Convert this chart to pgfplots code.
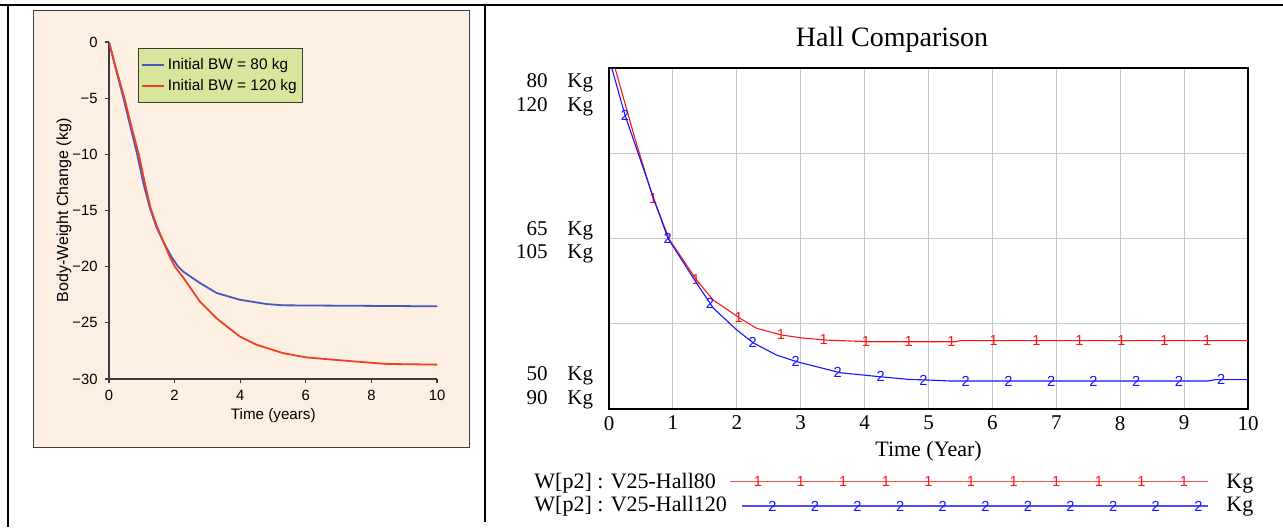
\documentclass[border=0pt]{standalone}
\usepackage{pgfplots}
\pgfplotsset{compat=1.18}
\usepackage{fontspec}
\setmainfont{Liberation Serif}
\newfontfamily\lsans{Liberation Sans}
\definecolor{peach}{RGB}{253,239,225}
\definecolor{lgreen}{RGB}{216,229,156}
\definecolor{lblue}{RGB}{70,90,190}
\definecolor{lred}{RGB}{235,65,40}
\definecolor{axgray}{RGB}{60,60,60}
\definecolor{vred}{RGB}{255,20,20}
\definecolor{vblue}{RGB}{20,20,255}
\begin{document}
\begin{tikzpicture}
\path[use as bounding box] (0,0) rectangle (641.5pt,263.5pt);
% ---------- frame and panel backgrounds (pixel grid) ----------
\begin{scope}[x=0.5pt,y=-0.5pt,yshift=263.5pt]
\draw[line width=1pt] (0,4.5) -- (1283,4.5);
\draw[line width=0.85pt] (8,4.5) -- (8,527);
\draw[line width=1pt] (485,4.5) -- (485,522);
\filldraw[fill=peach,draw=axgray,line width=0.5pt] (33,10) rectangle (469,447);
\end{scope}
% ---------- left chart ----------
\begin{axis}[
  at={(54.5pt,74pt)}, anchor=south west, scale only axis,
  width=164pt, height=168.5pt,
  xmin=0, xmax=10, ymin=-30, ymax=0,
  axis lines=left, axis line style={-, draw=axgray, line width=0.7pt},
  xtick={0,2,...,10}, ytick={-30,-25,...,0},
  yticklabels={−30,−25,−20,−15,−10,−5,0},
  tick align=outside, major tick length=2.2pt,
  tick style={axgray, line width=0.6pt},
  ticklabel style={font=\lsans\fontsize{7.4}{8}\selectfont},
  /pgf/number format/assume math mode=true,
  legend cell align=left,
  legend image code/.code={\draw[#1] (0pt,0pt) -- (11pt,0pt);},
  legend style={at={(0.0884,0.982)}, anchor=north west, fill=lgreen,
    draw=axgray, line width=0.5pt, font=\lsans\fontsize{7.7}{8}\selectfont,
    inner xsep=1.5pt, inner ysep=3.2pt, row sep=0pt,
    nodes={inner sep=1.3pt, text height=6pt, text depth=1.8pt}},
]
\addplot[lblue, line width=0.9pt] coordinates {
(0,0) (0.2,-2.3) (0.44,-5) (0.65,-7.5) (0.86,-10) (1.05,-12.6) (1.25,-14.8)
(1.45,-16.5) (1.66,-17.8) (1.9,-19.1) (2.11,-20) (2.27,-20.45) (2.77,-21.45)
(3.28,-22.34) (3.98,-22.94) (4.79,-23.32) (5.3,-23.44) (6.83,-23.47) (8.5,-23.5) (10,-23.53)};
\addlegendentry{Initial BW = 80 kg}
\addplot[lred, line width=0.9pt] coordinates {
(0,0) (0.2,-2.2) (0.47,-5) (0.69,-7.6) (0.91,-10) (1.08,-12.4) (1.27,-14.8)
(1.46,-16.4) (1.66,-17.8) (1.85,-19.1) (2.01,-20) (2.27,-21.0) (2.77,-23.1)
(3.28,-24.6) (3.98,-26.2) (4.49,-26.94) (5.3,-27.69) (6.0,-28.07) (6.83,-28.28)
(7.85,-28.52) (8.46,-28.66) (10,-28.72)};
\addlegendentry{Initial BW = 120 kg}
\end{axis}
% ---------- right chart: series 1 (80 kg scale) ----------
\begin{axis}[
  at={(304.5pt,59pt)}, anchor=south west, scale only axis,
  width=319.5pt, height=170.5pt,
  xmin=0, xmax=10, ymin=50, ymax=80,
  xtick={0,1,...,10}, ytick={50,57.5,65,72.5,80}, yticklabels={,,,,},
  grid=major, grid style={black!22, line width=0.5pt},
  major tick length=0pt,
  axis line style={black, line width=0.9pt},
  xticklabel style={font=\fontsize{10.5}{12}\selectfont},
  /pgf/number format/assume math mode=true,
]
\addplot[vred, line width=0.55pt] coordinates {
(0.094,80) (0.4,73.9) (0.69,68.54) (0.95,64.87) (1.37,61.35) (1.63,59.59)
(2.05,57.98) (2.31,57.10) (2.70,56.51) (3.0,56.27) (3.38,56.07) (4.05,55.92)
(5.42,55.92) (5.5,56.01) (10,56.01)};
\addplot[vred, only marks, mark=text, text mark={1}, text mark as node=true,
  text mark style={font=\lsans\fontsize{7.3}{7}\selectfont, inner sep=0pt}] coordinates {
(0.69,68.54) (1.36,61.42) (2.03,58.05) (2.69,56.52) (3.36,56.08) (4.02,55.93)
(4.69,55.92) (5.36,55.92) (6.02,56.01) (6.69,56.01) (7.36,56.01) (8.02,56.01)
(8.69,56.01) (9.36,56.01)};
\end{axis}
% ---------- right chart: series 2 (120 kg scale) ----------
\begin{axis}[
  at={(304.5pt,59pt)}, anchor=south west, scale only axis,
  width=319.5pt, height=170.5pt,
  xmin=0, xmax=10, ymin=90, ymax=120, hide axis,
]
\addplot[vblue, line width=0.55pt] coordinates {
(0.043,120) (0.25,115.86) (0.69,108.68) (0.92,105.04) (1.37,101.08) (1.63,98.89)
(2.0,96.95) (2.26,95.81) (2.62,94.75) (2.94,94.16) (3.62,93.19) (4.24,92.84)
(4.7,92.6) (5.0,92.55) (5.35,92.46) (9.37,92.46) (9.48,92.58) (10,92.58)};
\addplot[vblue, only marks, mark=text, text mark={2}, text mark as node=true,
  text mark style={font=\lsans\fontsize{7.3}{7}\selectfont, inner sep=0pt}] coordinates {
(0.25,115.86) (0.92,105.04) (1.58,99.31) (2.25,95.85) (2.92,94.2) (3.58,93.25)
(4.25,92.83) (4.92,92.56) (5.58,92.46) (6.25,92.46) (6.92,92.46) (7.58,92.46)
(8.25,92.46) (8.92,92.46) (9.58,92.58)};
\end{axis}
% ---------- right legend lines (pixel-space axis) ----------
\begin{axis}[
  at={(0pt,0pt)}, anchor=south west, scale only axis,
  width=641.5pt, height=263.5pt,
  xmin=0, xmax=1283, ymin=0, ymax=527, y dir=reverse,
  hide axis, clip=false,
]
\addplot[vred!75, line width=0.7pt] coordinates {(730,481.7) (1208,481.7)};
\addplot[vred, only marks, mark=text, text mark={1}, text mark as node=true,
  text mark style={font=\lsans\fontsize{7.3}{7}\selectfont, inner sep=0pt}] coordinates {
(758,481.7) (800.6,481.7) (843.2,481.7) (885.8,481.7) (928.4,481.7) (971,481.7)
(1013.6,481.7) (1056.2,481.7) (1098.8,481.7) (1141.4,481.7) (1184,481.7)};
\addplot[vblue!75, line width=0.7pt] coordinates {(741.7,506) (1208,506)};
\addplot[vblue, only marks, mark=text, text mark={2}, text mark as node=true,
  text mark style={font=\lsans\fontsize{7.3}{7}\selectfont, inner sep=0pt}] coordinates {
(772.3,506) (814.9,506) (857.5,506) (900.1,506) (942.7,506) (985.3,506)
(1027.9,506) (1070.5,506) (1113.1,506) (1155.7,506) (1198.3,506)};
\end{axis}
% ---------- texts (pixel grid) ----------
\begin{scope}[x=0.5pt,y=-0.5pt,yshift=263.5pt]
\node[rotate=90, anchor=base, inner sep=0pt, font=\lsans\fontsize{8}{9}\selectfont] at (68,210.5) {Body-Weight Change (kg)};
\node[anchor=base, inner sep=0pt, font=\lsans\fontsize{7.6}{9}\selectfont] at (273.3,419.3) {Time (years)};
\node[anchor=base, inner sep=0pt, font=\fontsize{14}{16}\selectfont] at (892,46.7) {Hall Comparison};
\node[anchor=base, inner sep=0pt, font=\fontsize{11}{13}\selectfont] at (928.5,456.7) {Time (Year)};
\begin{scope}[every node/.style={inner sep=0pt, font=\fontsize{10.5}{12}\selectfont}]
\node[anchor=base east] at (548,87.3) {80};  \node[anchor=base west] at (567,87.3) {Kg};
\node[anchor=base east] at (548,111) {120};  \node[anchor=base west] at (567,111) {Kg};
\node[anchor=base east] at (548,235) {65};   \node[anchor=base west] at (567,235) {Kg};
\node[anchor=base east] at (548,258.3) {105};\node[anchor=base west] at (567,258.3) {Kg};
\node[anchor=base east] at (548,380) {50};   \node[anchor=base west] at (567,380) {Kg};
\node[anchor=base east] at (548,404) {90};   \node[anchor=base west] at (567,404) {Kg};
\end{scope}
\begin{scope}[every node/.style={inner sep=0pt, font=\fontsize{11}{13}\selectfont}]
\node[anchor=base west] at (534,488) {W[p2] : V25-Hall80};
\node[anchor=base west] at (534,511.7) {W[p2] : V25-Hall120};
\node[anchor=base west] at (1226,488) {Kg};
\node[anchor=base west] at (1226,511.7) {Kg};
\end{scope}
\end{scope}
\end{tikzpicture}
\end{document}
